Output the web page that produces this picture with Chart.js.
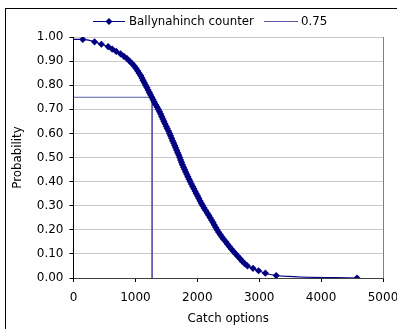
<!DOCTYPE html>
<html><head><meta charset="utf-8">
<script src="https://cdn.jsdelivr.net/npm/chart.js@4"></script>
<style>
html,body{margin:0;padding:0;overflow:hidden;background:#fff;width:397px;height:329px}
#wrap{position:absolute;left:0;top:0;width:400px;height:329px}
#frame{position:absolute;left:5px;top:8px;width:420px;height:340px;border:1px solid #000;pointer-events:none}
canvas{position:absolute;left:0;top:0}
</style></head><body>
<div id="wrap"><canvas id="c" width="400" height="329"></canvas></div>
<div id="frame"></div>
<script>
const seriesName = 'Ballynahinch counter';
const refName = '0.75';
const xTitle = 'Catch options';
const yTitle = 'Probability';
const catchOptions = [0,150,340,450,560,625,690,760,815,865,905,945,980,1010,1035,1060,1085,1105,1125,1145,1165,1185,1205,1225,1245,1265,1285,1305,1325,1350,1370,1390,1408,1425,1443,1460,1478,1497,1515,1535,1552,1568,1585,1600,1618,1635,1650,1667,1683,1700,1716,1730,1745,1760,1778,1795,1812,1830,1848,1868,1885,1905,1925,1945,1965,1985,2005,2025,2045,2065,2088,2110,2135,2160,2185,2208,2232,2255,2275,2298,2320,2345,2370,2398,2428,2460,2490,2520,2550,2585,2620,2655,2690,2725,2765,2810,2900,2990,3100,3275,4580];
const probability = [0.99,0.99,0.98,0.97,0.96,0.95,0.94,0.93,0.92,0.91,0.90,0.89,0.88,0.87,0.86,0.85,0.84,0.83,0.82,0.81,0.80,0.79,0.78,0.77,0.76,0.75,0.74,0.73,0.72,0.71,0.70,0.69,0.68,0.67,0.66,0.65,0.64,0.63,0.62,0.61,0.60,0.59,0.58,0.57,0.56,0.55,0.54,0.53,0.52,0.51,0.50,0.49,0.48,0.47,0.46,0.45,0.44,0.43,0.42,0.41,0.40,0.39,0.38,0.37,0.36,0.35,0.34,0.33,0.32,0.31,0.30,0.29,0.28,0.27,0.26,0.25,0.24,0.23,0.22,0.21,0.20,0.19,0.18,0.17,0.16,0.15,0.14,0.13,0.12,0.11,0.10,0.09,0.08,0.07,0.06,0.05,0.04,0.03,0.02,0.01,0.00];
const refX = [0,1270,1270];
const refY = [0.75,0.75,0];
const xTickLabels = ['0','1000','2000','3000','4000','5000'];
const yTickLabels = ['0.00','0.10','0.20','0.30','0.40','0.50','0.60','0.70','0.80','0.90','1.00'];

const NAVY = '#000080';
const REF = '#5a5aa8';
const FONT = 'DejaVu Sans';

const legendPlugin = {
  id: 'xlLegend',
  afterDraw(chart) {
    const ctx = chart.ctx;
    ctx.save();
    const y = 21.5;
    ctx.lineWidth = 1;
    ctx.strokeStyle = NAVY;
    ctx.beginPath(); ctx.moveTo(93, y); ctx.lineTo(125, y); ctx.stroke();
    ctx.fillStyle = NAVY;
    ctx.beginPath(); ctx.moveTo(109, y-3.5); ctx.lineTo(112.5, y); ctx.lineTo(109, y+3.5); ctx.lineTo(105.5, y); ctx.closePath(); ctx.fill();
    ctx.strokeStyle = REF;
    ctx.beginPath(); ctx.moveTo(264, y); ctx.lineTo(298, y); ctx.stroke();
    ctx.fillStyle = '#000';
    ctx.font = '11.8px "' + FONT + '"';
    ctx.textBaseline = 'middle';
    ctx.textAlign = 'left';
    ctx.fillText(seriesName, 129, y);
    ctx.fillText(refName, 301, y);
    ctx.restore();
  }
};

new Chart(document.getElementById('c'), {
  type: 'scatter',
  data: {
    datasets: [
      {
        label: seriesName,
        data: catchOptions.map((x, i) => ({x: x, y: probability[i]})),
        showLine: true,
        borderColor: NAVY,
        backgroundColor: NAVY,
        borderWidth: 1.2,
        pointStyle: 'rectRot',
        pointRadius: ctx => ctx.dataIndex === 0 ? 0 : 3.6,
        pointBorderWidth: 0,
        cubicInterpolationMode: 'monotone',
        order: 0
      },
      {
        label: refName,
        data: refX.map((x, i) => ({x: x, y: refY[i]})),
        showLine: true,
        borderColor: REF,
        backgroundColor: REF,
        borderWidth: 1,
        pointRadius: 0,
        order: 1
      }
    ]
  },
  options: {
    responsive: false,
    animation: false,
    devicePixelRatio: 1,
    layout: {padding: {left: 0, top: 37, right: 17, bottom: 0}},
    plugins: {legend: {display: false}, tooltip: {enabled: false}},
    scales: {
      x: {
        type: 'linear', min: 0, max: 5000,
        ticks: {stepSize: 1000, color: '#000', font: {family: FONT, size: 12}, padding: 9, maxRotation: 0,
          callback: (v, i) => xTickLabels[i]},
        grid: {color: ctx => (ctx.tick && ctx.tick.value === 5000) ? '#808080' : 'rgba(0,0,0,0)', tickColor: '#000', tickLength: 4, lineWidth: 1},
        border: {color: '#404040', width: 1},
        title: {display: true, text: xTitle, color: '#000', font: {family: FONT, size: 11.8}, padding: {top: 0, bottom: 3}},
        afterFit: s => { s.height = 51; s.paddingRight = 0; s.paddingLeft = 0; }
      },
      y: {
        type: 'linear', min: 0, max: 1,
        ticks: {stepSize: 0.1, color: '#000', font: {family: FONT, size: 12}, padding: 6,
          callback: (v, i) => yTickLabels[i]},
        grid: {color: '#c8c8c8', tickColor: '#000', tickLength: 4, lineWidth: 1},
        border: {color: '#000', width: 1},
        title: {display: true, text: yTitle, color: '#000', font: {family: FONT, size: 11.8}, padding: {top: 11, bottom: 0}},
        afterFit: s => { s.width = 73.5; s.paddingTop = 0; s.paddingBottom = 0; }
      }
    }
  },
  plugins: [legendPlugin]
});
</script>
</body></html>
